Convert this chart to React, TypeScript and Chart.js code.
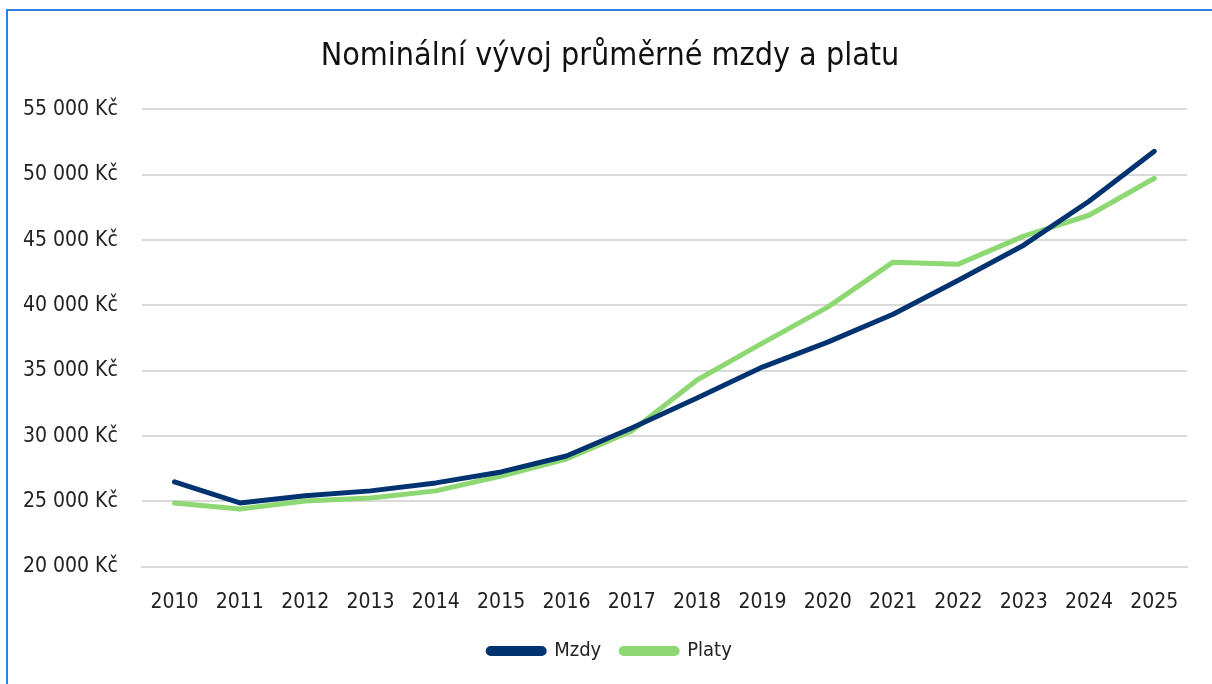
import React, { useEffect, useRef } from "react";
import { Chart, registerables } from "chart.js";

Chart.register(...registerables);

const years = ["2010","2011","2012","2013","2014","2015","2016","2017","2018","2019","2020","2021","2022","2023","2024","2025"];
const mzdy = [26500, 24890, 25430, 25810, 26420, 27260, 28480, 30620, 32910, 35280, 37190, 39330, 41930, 44610, 47970, 51790];
const platy = [24890, 24430, 25040, 25270, 25810, 26950, 28250, 30390, 34290, 37120, 39870, 43310, 43160, 45300, 46900, 49730];
const yTicks = { min: 20000, max: 55000, step: 5000 };
const titleText = "Nominální vývoj průměrné mzdy a platu";

const FONT = "'DejaVu Sans Condensed', 'DejaVu Sans', sans-serif";

function fmt(v: number): string {
  return String(Math.round(v)).replace(/\B(?=(\d{3})+(?!\d))/g, " ") + " Kč";
}

export default function App() {
  const ref = useRef<HTMLCanvasElement | null>(null);
  useEffect(() => {
    if (!ref.current) return;
    const chart = new Chart(ref.current, {
      type: "line",
      data: {
        labels: years,
        datasets: [
          { label: "Mzdy", data: mzdy, borderColor: "#00336f", backgroundColor: "#00336f", borderWidth: 5, pointRadius: 0, tension: 0, borderCapStyle: "round", borderJoinStyle: "round" },
          { label: "Platy", data: platy, borderColor: "#8dd873", backgroundColor: "#8dd873", borderWidth: 5, pointRadius: 0, tension: 0, borderCapStyle: "round", borderJoinStyle: "round" },
        ],
      },
      options: {
        animation: false,
        responsive: true,
        maintainAspectRatio: false,
        layout: { padding: { left: 25, right: 25, top: 0, bottom: 13 } },
        plugins: {
          title: { display: true, text: titleText, color: "#111", font: { family: FONT, size: 32, weight: "normal" }, padding: { top: 26, bottom: 34 } },
          legend: {
            position: "bottom",
            labels: {
              color: "#222",
              font: { family: FONT, size: 20 },
              boxWidth: 56,
              boxHeight: 5,
              useBorderRadius: true,
              borderRadius: 2.5,
              padding: 20,
            },
          },
          tooltip: { enabled: false },
        },
        scales: {
          x: {
            offset: true,
            grid: { display: false, drawTicks: false },
            border: { display: true, color: "#d9d9d9", width: 2 },
            ticks: { color: "#222", font: { family: FONT, size: 21 }, padding: 23, maxRotation: 0 },
            afterFit: (s: any) => { s.height -= 17; },
          },
          y: {
            min: yTicks.min,
            max: yTicks.max,
            grid: { color: "#d9d9d9", lineWidth: 2, drawTicks: false },
            border: { display: false },
            ticks: { stepSize: yTicks.step, color: "#222", font: { family: FONT, size: 21 }, padding: 24, callback: (v: any) => fmt(Number(v)) },
            afterFit: (s: any) => {
              s.width -= 34;
              s._computeLabelArea = () => undefined;
            },
          },
        },
      },
    });
    return () => chart.destroy();
  }, []);
  return (
    <div style={{ position: "absolute", left: 6, top: 9, width: 1220, height: 690, borderLeft: "2px solid #2e7fdf", borderTop: "2px solid #2e7fdf" }}>
      <div style={{ position: "absolute", left: 0, top: 0, width: 1204, height: 673 }}>
        <canvas ref={ref} />
      </div>
    </div>
  );
}
